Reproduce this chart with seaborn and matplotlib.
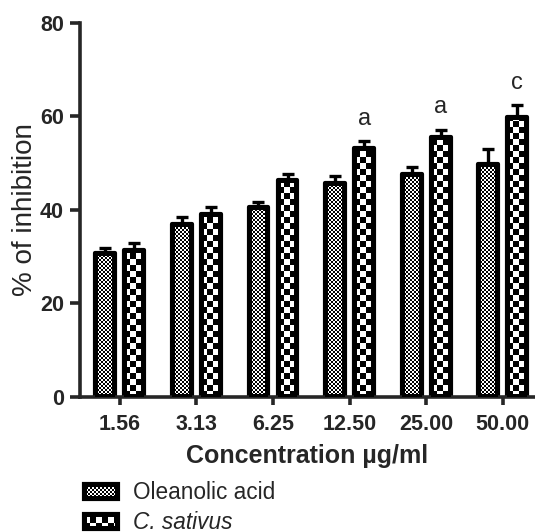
import numpy as np
import pandas as pd
import matplotlib.pyplot as plt
import seaborn as sns

# values
conc = ['1.56', '3.13', '6.25', '12.50', '25.00', '50.00']
oleanolic = [30.8, 37.0, 40.6, 45.8, 47.8, 49.8]
oleanolic_err = [1.1, 1.5, 1.1, 1.5, 1.3, 3.2]
sativus = [31.5, 39.2, 46.5, 53.3, 55.7, 59.8]
sativus_err = [1.5, 1.5, 1.1, 1.5, 1.5, 2.6]
sig = ['', '', '', 'a', 'a', 'c']
groups = ['Oleanolic acid', 'C. sativus']
cells = [2, 6]  # checker size (px) for each group

df = pd.DataFrame({
    'conc': conc * 2,
    'value': oleanolic + sativus,
    'err': oleanolic_err + sativus_err,
    'group': [groups[0]] * len(conc) + [groups[1]] * len(conc),
})

sns.set_style('ticks')
plt.rcParams['font.family'] = ['Liberation Sans', 'DejaVu Sans']
plt.rcParams['font.size'] = 15.5

fig = plt.figure(figsize=(5.35, 5.32), dpi=100)
ax = fig.add_axes([0.1495, 0.2538, 0.8505, 0.703])

sns.barplot(data=df, x='conc', y='value', hue='group', order=conc, hue_order=groups,
            palette=['white', 'white'], saturation=1, edgecolor='black', linewidth=3,
            width=0.76, gap=0.32, errorbar=None, legend=False, ax=ax)

bars = list(ax.patches)
for p in bars:
    p.set_joinstyle('round')

# upper error bars + significance letters
for k, g in enumerate(groups):
    sub = df[df['group'] == g]
    xs = [p.get_x() + p.get_width() / 2 for p in bars[k * len(conc):(k + 1) * len(conc)]]
    ax.errorbar(xs, sub['value'], yerr=[np.zeros(len(sub)), sub['err']], fmt='none',
                ecolor='black', elinewidth=2.4, capsize=4.2, capthick=2.4, zorder=3)
    if k == 1:
        for x, v, e, s in zip(xs, sub['value'], sub['err'], sig):
            if s:
                ax.annotate(s, (x, v + e), xytext=(0, 8), textcoords='offset points',
                            ha='center', va='bottom', fontsize=17)

ax.set_ylim(0, 80)
ax.set_xlim(-0.52, 5.42)
ax.set_yticks([0, 20, 40, 60, 80])
sns.despine(ax=ax)
for s in ['left', 'bottom']:
    ax.spines[s].set_linewidth(2.6)
ax.tick_params(axis='y', length=7, width=2.6, pad=4.5, labelsize=15.5)
ax.tick_params(axis='x', length=5.5, width=2.6, pad=7, labelsize=15.5)
for lab in ax.get_xticklabels() + ax.get_yticklabels():
    lab.set_fontweight('bold')
ax.set_ylabel('% of inhibition', fontsize=20, labelpad=1.5)
ax.set_xlabel('Concentration µg/ml', fontsize=18, fontweight='bold', labelpad=6)

handles = [plt.Rectangle((0, 0), 1, 1, facecolor='white', edgecolor='black', linewidth=3,
                         joinstyle='round') for _ in groups]
leg = fig.legend(handles, groups, loc='upper left', bbox_to_anchor=(0.157, 0.095),
                 frameon=False, handlelength=1.5, handleheight=0.65, handletextpad=0.65,
                 labelspacing=0.3, borderpad=0, borderaxespad=0, fontsize=16.3)
leg.get_texts()[1].set_fontstyle('italic')

# checkerboard fill, clipped to each bar / legend key
fig.canvas.draw()
renderer = fig.canvas.get_renderer()


def add_checker(patch, cell, z):
    bb = patch.get_window_extent(renderer)
    x0, y0 = int(round(bb.x0)), int(round(bb.y0))
    w, h = int(round(bb.x1)) - x0, int(round(bb.y1)) - y0
    i, j = np.indices((h, w))
    img = ((i // cell + j // cell) % 2).astype(float)
    img[:3, :] = 0
    img[-3:, :] = 0
    img[:, :3] = 0
    img[:, -3:] = 0
    im = fig.figimage(img, xo=x0, yo=y0, origin='lower', cmap='gray', vmin=0, vmax=1, zorder=z)
    im.set_clip_path(patch)


for k in range(len(groups)):
    for p in bars[k * len(conc):(k + 1) * len(conc)]:
        add_checker(p, cells[k], 1)
    add_checker(leg.get_patches()[k], cells[k], 6)

fig.savefig('out.png', dpi=100)
